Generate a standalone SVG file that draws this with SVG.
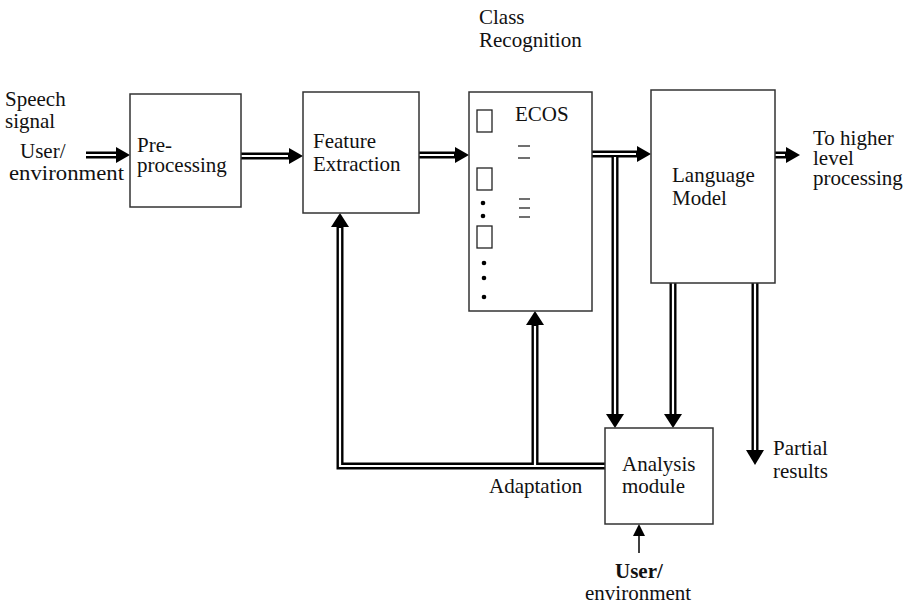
<svg xmlns="http://www.w3.org/2000/svg" width="907" height="606" viewBox="0 0 907 606">
<style>
.box{fill:#fff;stroke:#333;stroke-width:1.5}
text{font-family:'Liberation Serif','Times New Roman',Times,serif;font-size:21px;fill:#111}
.outer{fill:none;stroke:#000;stroke-width:7;stroke-linejoin:miter;stroke-linecap:butt}
.inner{fill:none;stroke:#fff;stroke-width:2.2;stroke-linejoin:miter;stroke-linecap:butt}
.head{fill:#000}
.thin{fill:none;stroke:#000;stroke-width:1.5}
.sm{fill:none;stroke:#222;stroke-width:1.3}
.dash{stroke:#222;stroke-width:1.3}
</style>
<rect width="907" height="606" fill="#fff"/>

<g id="connectors">
  <path class="outer" d="M86,155 H118 M241,156 H290 M419,155 H456 M592,154 H638 M775,155 H787 M615,154 V416 M673,283 V416 M755,283 V452 M605,466 H340 V226 M535,466 V324"/>
  <path class="inner" d="M86,155 H116 M241,156 H288 M419,155 H454 M592,154 H636 M775,155 H785 M615,157 V414 M673,283 V414 M755,283 V450 M605,466 H340 V228 M535,466 V326"/>
  <polygon class="head" points="130,155 116,147 116,163"/>
  <polygon class="head" points="303,156 289,148 289,164"/>
  <polygon class="head" points="469,155 455,147 455,163"/>
  <polygon class="head" points="651,154 637,146 637,162"/>
  <polygon class="head" points="800,155 786,147 786,163"/>
  <polygon class="head" points="615,428 606,414 624,414"/>
  <polygon class="head" points="673,428 664,414 682,414"/>
  <polygon class="head" points="755,465 746,450 764,450"/>
  <polygon class="head" points="340,213 331,227 349,227"/>
  <polygon class="head" points="535,311 526,325 544,325"/>
  <line class="thin" x1="639" y1="553" x2="639" y2="534"/>
  <polygon class="head" points="639,524 633,536 645,536"/>
</g>

<g id="preprocessing">
  <rect class="box" x="130" y="94" width="111" height="113"/>
  <text x="137" y="152">Pre-</text>
  <text x="137" y="172">processing</text>
</g>

<g id="feature-extraction">
  <rect class="box" x="303" y="92" width="116" height="121"/>
  <text x="313" y="148">Feature</text>
  <text x="313" y="171">Extraction</text>
</g>

<g id="ecos">
  <rect class="box" x="469" y="92" width="123" height="219"/>
  <text x="515" y="121">ECOS</text>
  <rect class="sm" x="477" y="110" width="15" height="22"/>
  <rect class="sm" x="477" y="168" width="15" height="22"/>
  <rect class="sm" x="477" y="226" width="15" height="22"/>
  <circle cx="483" cy="203" r="2.3" fill="#000"/>
  <circle cx="483" cy="216" r="2.3" fill="#000"/>
  <circle cx="484" cy="263" r="2.3" fill="#000"/>
  <circle cx="484" cy="278" r="2.3" fill="#000"/>
  <circle cx="484" cy="297" r="2.3" fill="#000"/>
  <line class="dash" x1="518" y1="146" x2="530" y2="146"/>
  <line class="dash" x1="518" y1="158" x2="530" y2="158"/>
  <line class="dash" x1="519" y1="199" x2="530" y2="199"/>
  <line class="dash" x1="519" y1="208" x2="530" y2="208"/>
  <line class="dash" x1="519" y1="217" x2="530" y2="217"/>
</g>

<g id="language-model">
  <rect class="box" x="651" y="90" width="124" height="193"/>
  <text x="672" y="182">Language</text>
  <text x="672" y="205">Model</text>
</g>

<g id="analysis-module">
  <rect class="box" x="605" y="428" width="108" height="96"/>
  <text x="622" y="471">Analysis</text>
  <text x="622" y="493">module</text>
</g>

<g id="labels">
  <text x="5" y="106">Speech</text>
  <text x="5" y="128">signal</text>
  <text x="20" y="158">User/</text>
  <text x="9" y="180" textLength="115" lengthAdjust="spacingAndGlyphs">environment</text>
  <text x="479" y="24">Class</text>
  <text x="479" y="47">Recognition</text>
  <text x="813" y="145">To higher</text>
  <text x="813" y="165">level</text>
  <text x="813" y="185">processing</text>
  <text x="773" y="455">Partial</text>
  <text x="773" y="478">results</text>
  <text x="489" y="493">Adaptation</text>
  <text x="615" y="578" font-weight="bold">User/</text>
  <text x="585" y="600">environment</text>
</g>
</svg>
